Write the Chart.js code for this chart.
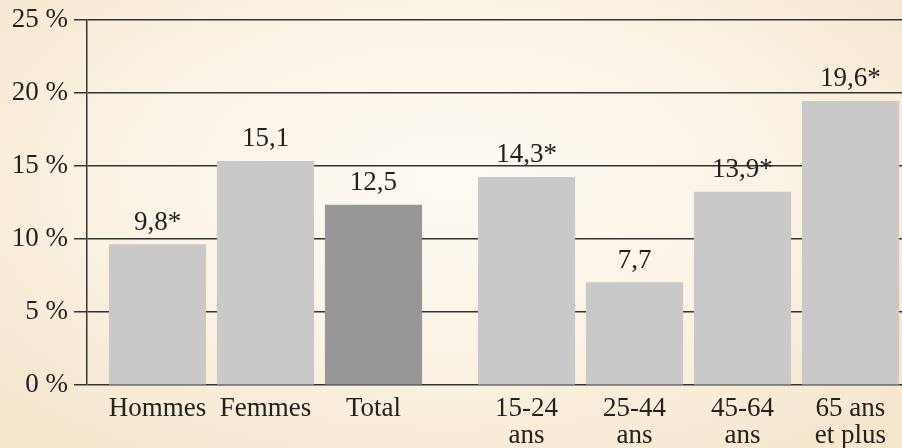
<!DOCTYPE html>
<html>
<head>
<meta charset="utf-8">
<script src="https://cdn.jsdelivr.net/npm/chart.js@4/dist/chart.umd.min.js"></script>
<style>
  html, body { margin: 0; padding: 0; }
  body {
    width: 902px; height: 448px; overflow: hidden;
    background: radial-gradient(ellipse 70% 75% at 50% 40%, #fefbf4 0%, #fbf3e5 50%, #f5e6cd 100%);
  }
  #wrap { position: relative; width: 902px; height: 448px; }
</style>
</head>
<body>
<div id="wrap"><canvas id="chart"></canvas></div>
<script>
// categories (multi-line tick labels)
var categories = [["Hommes"], ["Femmes"], ["Total"], ["15-24", "ans"], ["25-44", "ans"], ["45-64", "ans"], ["65 ans", "et plus"]];
// bar heights as drawn in the picture (%)
var values = [9.6, 15.3, 12.3, 14.2, 7.0, 13.2, 19.4];
// printed value labels
var valueLabels = ["9,8*", "15,1", "12,5", "14,3*", "7,7", "13,9*", "19,6*"];
var yTicks = [0, 5, 10, 15, 20, 25];

var groupGap = 0.417;   // extra space between the sex group and the age group
function xPos(i) { return i + (i >= 3 ? groupGap : 0); }

var font = { family: "Liberation Serif, DejaVu Serif, serif", size: 27 };
var ink = "#222222";

var valueLabelPlugin = {
    id: "valueLabels",
    afterDatasetsDraw: function (chart) {
        var ctx = chart.ctx;
        var meta = chart.getDatasetMeta(0);
        ctx.save();
        ctx.font = font.size + "px " + font.family;
        ctx.fillStyle = ink;
        ctx.textAlign = "center";
        ctx.textBaseline = "alphabetic";
        meta.data.forEach(function (bar, i) {
            ctx.fillText(valueLabels[i], bar.x, bar.y - 15);
        });
        ctx.restore();
    }
};

function draw() {
    var ctx = document.getElementById("chart").getContext("2d");
    new Chart(ctx, {
        type: "bar",
        data: {
            datasets: [{
                data: values.map(function (v, i) { return { x: xPos(i), y: v }; }),
                backgroundColor: categories.map(function (c) { return c[0] === "Total" ? "#979797" : "#c9c9c9"; }),
                borderWidth: 0,
                barThickness: 96.5
            }]
        },
        options: {
            responsive: true,
            maintainAspectRatio: false,
            animation: false,
            layout: { padding: { top: 16, right: 0, left: 0, bottom: 0 } },
            plugins: { legend: { display: false }, tooltip: { enabled: false } },
            scales: {
                x: {
                    type: "linear",
                    offset: false,
                    min: -0.653,
                    max: 6.894,
                    grid: { display: false, drawTicks: false },
                    border: { display: false },
                    afterBuildTicks: function (scale) {
                        scale.ticks = categories.map(function (c, i) { return { value: xPos(i) }; });
                    },
                    afterFit: function (scale) { scale.height = 63; },
                    ticks: {
                        autoSkip: false,
                        maxRotation: 0,
                        padding: 11,
                        color: ink,
                        font: { family: font.family, size: font.size, lineHeight: 0.98 },
                        callback: function (v, idx) { return categories[idx]; }
                    }
                },
                y: {
                    min: 0,
                    max: 25,
                    afterBuildTicks: function (scale) {
                        scale.ticks = yTicks.map(function (t) { return { value: t }; });
                    },
                    afterFit: function (scale) { scale.width = 87; },
                    grid: { color: "#333333", lineWidth: 1.5, tickLength: 13, drawTicks: true },
                    border: { color: "#333333", width: 1.5 },
                    ticks: {
                        padding: 6,
                        color: ink,
                        font: { family: font.family, size: font.size, lineHeight: 1.0 },
                        callback: function (v) { return v + " %"; }
                    }
                }
            }
        },
        plugins: [valueLabelPlugin]
    });
}

if (document.fonts && document.fonts.load) {
    document.fonts.load("27px 'Liberation Serif'").then(draw, draw);
} else {
    draw();
}
</script>
</body>
</html>
